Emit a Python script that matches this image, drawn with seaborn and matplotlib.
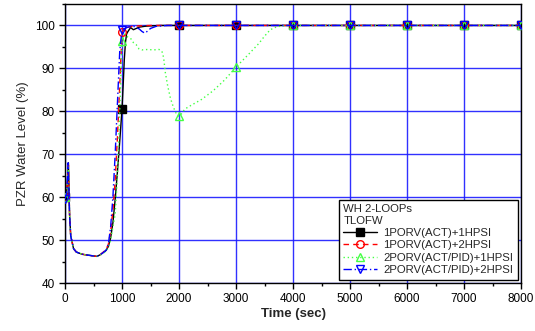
import matplotlib
matplotlib.use("Agg")
import matplotlib.pyplot as plt
import seaborn as sns
import numpy as np
import pandas as pd
from matplotlib.ticker import MultipleLocator

# ---- data ----
t_black = [0, 30, 60, 80, 100, 150, 200, 300, 400, 500, 560, 620, 680, 720, 760, 800, 840, 880, 920,
           960, 1000, 1020, 1040, 1060, 1080, 1100, 1150, 1200, 1250, 1300, 1400, 1500, 1700,
           2000, 3000, 4000, 5000, 6000, 7000, 8000]
y_black = [60, 61, 68, 56, 51, 48, 47.2, 46.7, 46.5, 46.3, 46.2, 46.6, 47.2, 47.6, 48.5, 50.5, 54, 59.5, 66,
           73, 80.5, 86, 92, 96, 98, 98.5, 99.5, 99.0, 99.3, 99.6, 99.8, 99.9, 100,
           100, 100, 100, 100, 100, 100, 100]

t_red = [0, 30, 60, 80, 100, 150, 200, 300, 400, 500, 560, 620, 680, 720, 760, 800, 840, 880, 920,
         960, 1000, 1050, 1100, 1200, 1300, 1500, 1700, 2000, 3000, 4000, 5000, 6000, 7000, 8000]
y_red = [60, 61, 67.5, 56, 51, 48, 47.2, 46.7, 46.5, 46.3, 46.2, 46.6, 47.3, 47.8, 49, 52, 57, 64, 74,
         86, 98.5, 99.2, 99.6, 99.8, 99.9, 100, 100, 100, 100, 100, 100, 100, 100, 100]

t_green = [0, 30, 60, 80, 100, 150, 200, 300, 400, 500, 560, 620, 680, 720, 760, 800, 840, 880, 920,
           960, 1000, 1050, 1100, 1150, 1200, 1250, 1300, 1350, 1450, 1550, 1650, 1700, 1730, 1760,
           1800, 1850, 1900, 1950, 2000, 2050, 2100, 2200, 2400, 2600, 2800, 3000, 3200, 3400, 3500,
           3600, 3700, 3800, 4000, 5000, 6000, 7000, 8000]
y_green = [60, 61, 67, 56, 51, 48, 47.2, 46.7, 46.5, 46.3, 46.2, 46.5, 47, 47.4, 48.3, 50, 53, 56, 65,
           80, 96.3, 98, 97.3, 97, 96, 95.5, 94.5, 94.3, 94.4, 94.3, 94.4, 94, 92.5, 89,
           86, 83, 81, 79.5, 78.8, 79.5, 80.5, 81.3, 82.8, 84.8, 87.3, 90.3, 93, 95.8, 97.5,
           99, 99.6, 99.9, 100, 100, 100, 100, 100]

t_blue = [0, 30, 55, 80, 100, 150, 200, 300, 400, 500, 560, 620, 680, 720, 760, 800, 840, 880, 920,
          960, 1000, 1050, 1100, 1200, 1300, 1350, 1400, 1450, 1500, 1600, 1800, 2000, 3000, 4000,
          5000, 6000, 7000, 8000]
y_blue = [59.5, 61, 68, 56, 51, 48, 47.2, 46.7, 46.5, 46.3, 46.2, 46.6, 47.2, 47.6, 49, 53, 60, 70, 82,
          94, 99, 99.3, 99.6, 99.8, 99.2, 98.6, 98.2, 98.7, 99.3, 99.8, 100, 100, 100, 100,
          100, 100, 100, 100]

labels = ["1PORV(ACT)+1HPSI", "1PORV(ACT)+2HPSI", "2PORV(ACT/PID)+1HPSI", "2PORV(ACT/PID)+2HPSI"]
xticks = [0, 1000, 2000, 3000, 4000, 5000, 6000, 7000, 8000]
yticks = [40, 50, 60, 70, 80, 90, 100]

sns.set_theme(style="white")
plt.rcParams['font.family'] = ['Liberation Sans', 'DejaVu Sans']

fig = plt.figure(figsize=(5.35, 3.31), dpi=100)
ax = fig.add_axes([0.1215, 0.145, 0.8525, 0.843])

series = [
    (t_black, y_black, labels[0], "black", "-", "s", "black"),
    (t_red, y_red, labels[1], "red", (0, (4, 3)), "o", "none"),
    (t_green, y_green, labels[2], "#44ff44", (0, (1, 2)), "^", "none"),
    (t_blue, y_blue, labels[3], "#0000ff", (0, (6, 2, 1, 2)), "v", "none"),
]

for t, y, lab, col, ls, mk, mfc in series:
    df = pd.DataFrame({"t": t, "y": y})
    every = [i for i, v in enumerate(t) if v % 1000 == 0]
    sns.lineplot(data=df, x="t", y="y", ax=ax, color=col, linestyle=ls, linewidth=1.0,
                 marker=mk, markevery=every, markersize=5.5, markerfacecolor=mfc,
                 markeredgecolor=col, markeredgewidth=1.0, label=lab, zorder=3)

ax.set_xlim(0, 8000)
ax.set_ylim(40, 105)
ax.set_xticks(xticks)
ax.set_yticks(yticks)
ax.xaxis.set_minor_locator(MultipleLocator(500))
ax.yaxis.set_minor_locator(MultipleLocator(5))
ax.grid(True, which="major", color="#1a1aff", linewidth=1.0, alpha=0.9, zorder=0)
ax.set_axisbelow(True)
ax.tick_params(axis="both", which="major", direction="out", length=4, width=1, colors="black",
               labelsize=8.5, bottom=True, left=True)
ax.tick_params(axis="both", which="minor", direction="out", length=2.5, width=1, colors="black",
               bottom=True, left=True)
for s in ax.spines.values():
    s.set_color("black")
    s.set_linewidth(1.0)

ax.set_xlabel("Time (sec)", fontsize=9.5, fontweight="bold", labelpad=2)
ax.set_ylabel("PZR Water Level (%)", fontsize=9.5, labelpad=4)

leg = ax.legend(title="WH 2-LOOPs\nTLOFW", loc="lower right", fontsize=8.2, title_fontsize=8.2,
                frameon=True, fancybox=False, edgecolor="black", framealpha=1,
                handlelength=3, borderaxespad=0.3, labelspacing=0.2, handletextpad=0.5,
                borderpad=0.4)
leg._legend_box.align = "left"
leg.get_frame().set_linewidth(1.0)

fig.savefig("out.png", dpi=100)
